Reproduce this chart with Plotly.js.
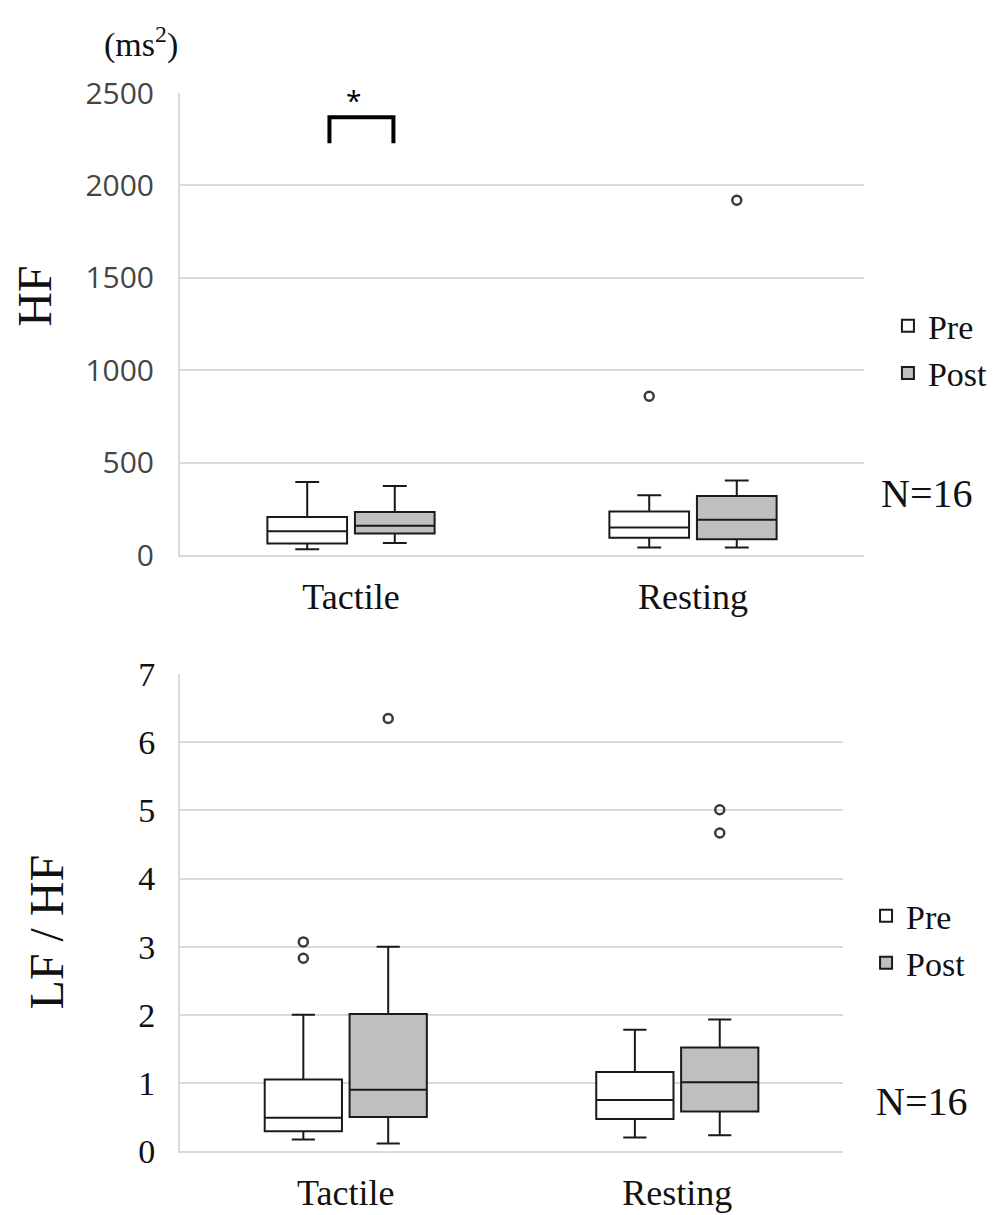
<!DOCTYPE html>
<html><head><meta charset="utf-8">
<script src="https://cdn.plot.ly/plotly-3.0.1.min.js"></script>
<style>html,body{margin:0;padding:0;background:#fff}</style>
</head><body><div id="chart" style="width:1005px;height:1215px"></div>
<script>
// ---------- data ----------
const categories = ['Tactile', 'Resting'];
const groupNames = ['Pre', 'Post'];

// HF (ms^2)
const hfPreLower  = [33, 42];
const hfPreQ1     = [64, 94];
const hfPreMedian = [130, 150];
const hfPreQ3     = [207, 237];
const hfPreUpper  = [396, 324];
const hfPreOutliers = [[], [860]];

const hfPostLower  = [66, 42];
const hfPostQ1     = [117, 86];
const hfPostMedian = [160, 192];
const hfPostQ3     = [234, 320];
const hfPostUpper  = [374, 404];
const hfPostOutliers = [[], [1920]];

// LF / HF
const lfhfPreLower  = [0.17, 0.20];
const lfhfPreQ1     = [0.29, 0.47];
const lfhfPreMedian = [0.49, 0.75];
const lfhfPreQ3     = [1.05, 1.16];
const lfhfPreUpper  = [2.00, 1.78];
const lfhfPreOutliers = [[3.07, 2.83], []];

const lfhfPostLower  = [0.11, 0.23];
const lfhfPostQ1     = [0.50, 0.58];
const lfhfPostMedian = [0.90, 1.01];
const lfhfPostQ3     = [2.01, 1.52];
const lfhfPostUpper  = [3.00, 1.93];
const lfhfPostOutliers = [[6.35], [5.01, 4.67]];

const hfTicks = [0, 500, 1000, 1500, 2000, 2500];
const lfhfTicks = [0, 1, 2, 3, 4, 5, 6, 7];

// ---------- styling ----------
const SERIF = '"Liberation Serif", "Times New Roman", serif';
const SANS = '"Open Sans", "Liberation Sans", sans-serif';
const GRID = '#d9d9d9';
const LINE = '#1a1a1a';
const fills = {Pre: '#ffffff', Post: '#bfbfbf'};
const offsets = {Pre: -0.128, Post: 0.128};
const BOXW = 0.233;

function pos(g) { return categories.map((c, i) => i + offsets[g]); }

function boxTrace(g, lo, q1, med, q3, hi, xa, ya, legend, lg) {
  return {
    type: 'box', name: g, x: pos(g),
    lowerfence: lo, q1: q1, median: med, q3: q3, upperfence: hi,
    width: BOXW, whiskerwidth: 0.3,
    fillcolor: fills[g], line: {color: LINE, width: 2},
    boxpoints: false, xaxis: xa, yaxis: ya,
    legend: legend, legendgroup: lg, showlegend: true
  };
}
function outlierTrace(g, outs, xa, ya) {
  const xs = [], ys = [];
  outs.forEach((arr, i) => arr.forEach(v => { xs.push(i + offsets[g]); ys.push(v); }));
  return {
    type: 'scatter', mode: 'markers', x: xs, y: ys, xaxis: xa, yaxis: ya,
    marker: {symbol: 'circle-open', size: 9, color: '#3a3a3a', line: {width: 2.5, color: '#3a3a3a'}},
    showlegend: false, hoverinfo: 'y', name: g + ' outliers'
  };
}

const data = [
  boxTrace('Pre', hfPreLower, hfPreQ1, hfPreMedian, hfPreQ3, hfPreUpper, 'x', 'y', 'legend', 'preHF'),
  boxTrace('Post', hfPostLower, hfPostQ1, hfPostMedian, hfPostQ3, hfPostUpper, 'x', 'y', 'legend', 'postHF'),
  outlierTrace('Pre', hfPreOutliers, 'x', 'y'),
  outlierTrace('Post', hfPostOutliers, 'x', 'y'),
  boxTrace('Pre', lfhfPreLower, lfhfPreQ1, lfhfPreMedian, lfhfPreQ3, lfhfPreUpper, 'x2', 'y2', 'legend2', 'preLF'),
  boxTrace('Post', lfhfPostLower, lfhfPostQ1, lfhfPostMedian, lfhfPostQ3, lfhfPostUpper, 'x2', 'y2', 'legend2', 'postLF'),
  outlierTrace('Pre', lfhfPreOutliers, 'x2', 'y2'),
  outlierTrace('Post', lfhfPostOutliers, 'x2', 'y2')
];

const xBase = {
  range: [-0.5, 1.5], tickvals: categories.map((c, i) => i), ticktext: categories,
  showgrid: false, zeroline: false, showline: true, linecolor: GRID, linewidth: 2,
  ticks: '', ticklabelstandoff: 9,
  tickfont: {family: SERIF, size: 36, color: '#111'}, fixedrange: true
};

const layout = {
  width: 1005, height: 1215,
  margin: {l: 180, r: 139, t: 92.5, b: 64},
  paper_bgcolor: '#ffffff', plot_bgcolor: '#ffffff',
  showlegend: true,
  xaxis: Object.assign({}, xBase, {domain: [0, 1], anchor: 'y'}),
  yaxis: {
    domain: [0.5631, 1], anchor: 'x', range: [0, 2500], tickvals: hfTicks,
    showgrid: true, gridcolor: GRID, gridwidth: 2, zeroline: false,
    showline: true, linecolor: GRID, linewidth: 2, ticks: '', ticklabelstandoff: 18,
    tickfont: {family: SANS, size: 30, color: '#454545'}
  },
  xaxis2: Object.assign({}, xBase, {domain: [0, 0.9694], anchor: 'y2'}),
  yaxis2: {
    domain: [0, 0.4506], anchor: 'x2', range: [0, 7], tickvals: lfhfTicks,
    showgrid: true, gridcolor: GRID, gridwidth: 2, zeroline: false,
    showline: true, linecolor: GRID, linewidth: 2, ticks: '', ticklabelstandoff: 16,
    tickfont: {family: SERIF, size: 34, color: '#111'}
  },
  legend: {
    x: 1.035, xanchor: 'left', y: 0.807, yanchor: 'top',
    font: {family: SERIF, size: 34, color: '#111'}, bgcolor: 'rgba(0,0,0,0)',
    tracegroupgap: 11, traceorder: 'normal'
  },
  legend2: {
    x: 1.003, xanchor: 'left', y: 0.2495, yanchor: 'top',
    font: {family: SERIF, size: 34, color: '#111'}, bgcolor: 'rgba(0,0,0,0)',
    tracegroupgap: 8, traceorder: 'normal'
  },
  shapes: [
    {type: 'path', xref: 'x', yref: 'y', path: 'M -0.063,2228 V 2369 H 0.124 V 2228',
     line: {color: '#000', width: 4}}
  ],
  annotations: [
    {text: '*', xref: 'x', yref: 'y', x: 0.007, y: 2462, showarrow: false,
     font: {family: SANS, size: 28, color: '#000'}, xanchor: 'center', yanchor: 'middle'},
    {text: '(ms<sup>2</sup>)', xref: 'paper', yref: 'paper', x: -0.0569, y: 1.0475, showarrow: false,
     font: {family: SERIF, size: 34, color: '#111'}, xanchor: 'center', yanchor: 'middle'},
    {text: 'HF', xref: 'paper', yref: 'paper', x: -0.2128, y: 0.8078, showarrow: false, textangle: -90,
     font: {family: SERIF, size: 48, color: '#111'}, xanchor: 'center', yanchor: 'middle'},
    {text: 'LF / HF', xref: 'paper', yref: 'paper', x: -0.1953, y: 0.2069, showarrow: false, textangle: -90,
     font: {family: SERIF, size: 48, color: '#111'}, xanchor: 'center', yanchor: 'middle'},
    {text: 'N=16', xref: 'paper', yref: 'paper', x: 1.0918, y: 0.6216, showarrow: false,
     font: {family: SERIF, size: 40, color: '#111'}, xanchor: 'center', yanchor: 'middle'},
    {text: 'N=16', xref: 'paper', yref: 'paper', x: 1.0845, y: 0.0472, showarrow: false,
     font: {family: SERIF, size: 40, color: '#111'}, xanchor: 'center', yanchor: 'middle'}
  ]
};

Plotly.newPlot('chart', data, layout, {displayModeBar: false, staticPlot: true});
</script>
</body></html>
